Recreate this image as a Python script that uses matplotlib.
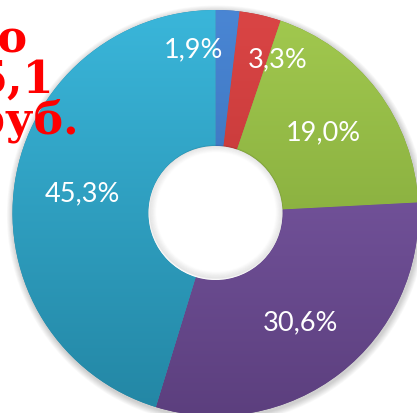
import numpy as np
import matplotlib
matplotlib.use("Agg")
import matplotlib.pyplot as plt
from matplotlib.patches import Wedge, Circle
from matplotlib.colors import LinearSegmentedColormap

# ---- data ----
labels = ["1,9%", "3,3%", "19,0%", "30,6%", "45,3%"]
values = [1.9, 3.3, 19.0, 30.6, 45.3]
colors_top = ["#4A86D4", "#DA4545", "#A2C94F", "#8260AE", "#3AB6DA"]
colors_bot = ["#2F63A8", "#B02E2E", "#769B33", "#5C3F7E", "#2386A4"]
title_lines = ["Всего", "5,1", "млрд руб."]

W, H = 417, 414
fig = plt.figure(figsize=(W / 100, H / 100), dpi=100)
ax = fig.add_axes([0, 0, 1, 1])
ax.set_xlim(0, W)
ax.set_ylim(0, H)
ax.set_aspect("equal")
ax.axis("off")

cx, cy = 215.5, H - 214
R, r = 203, 67

# outer soft shadow
for i in range(8):
    ax.add_patch(Circle((cx + 1, cy - 2), R + 1 + i * 0.8, color="black",
                        alpha=0.025, lw=0, zorder=0))

total = sum(values)
angle = 90.0
wedges = []
for v, ct, cb in zip(values, colors_top, colors_bot):
    sweep = 360.0 * v / total
    w = Wedge((cx, cy), R, angle - sweep, angle, width=R - r,
              facecolor=cb, edgecolor="none", zorder=1)
    ax.add_patch(w)
    cmap = LinearSegmentedColormap.from_list("g", [cb, ct])
    grad = np.linspace(0, 1, 256).reshape(-1, 1)
    im = ax.imshow(grad, cmap=cmap, extent=[cx - R, cx + R, cy - R, cy + R],
                   origin="lower", aspect="auto", zorder=2, interpolation="bilinear")
    im.set_clip_path(w)
    wedges.append((angle, sweep))
    angle -= sweep
ax.set_xlim(0, W)
ax.set_ylim(0, H)

# inner hole with soft inner shadow
ax.add_patch(Circle((cx, cy), r, facecolor="white", edgecolor="none", zorder=3))
for i in range(8):
    ax.add_patch(Circle((cx + 0.5, cy + 1.0), r - 0.5 - i * 0.9, fill=False,
                        edgecolor="black", lw=1.2, alpha=0.06 * (1 - i / 8),
                        zorder=3.5))

# labels
offsets = [(11, 0.815), (-9, 0.82), (0, 0.665), (0, 0.68), (0, 0.665)]
for (start, sweep), lab, (dang, rf) in zip(wedges, labels, offsets):
    mid = np.deg2rad(start - sweep / 2 + dang)
    x = cx + R * rf * np.cos(mid)
    y = cy + R * rf * np.sin(mid)
    ax.text(x, y, lab, color="white", fontsize=19.5, family="Lato",
            ha="center", va="center", zorder=5)

# clipped red title text
title_x = [28, 54, 79]
title_y = [H - 39, H - 80, H - 121]
for t, x, y in zip(title_lines, title_x, title_y):
    ax.text(x, y, t, color="#FF0000", fontsize=32, family="DejaVu Serif",
            fontweight="bold", ha="right", va="center", zorder=6)

fig.savefig("out.png", dpi=100)
